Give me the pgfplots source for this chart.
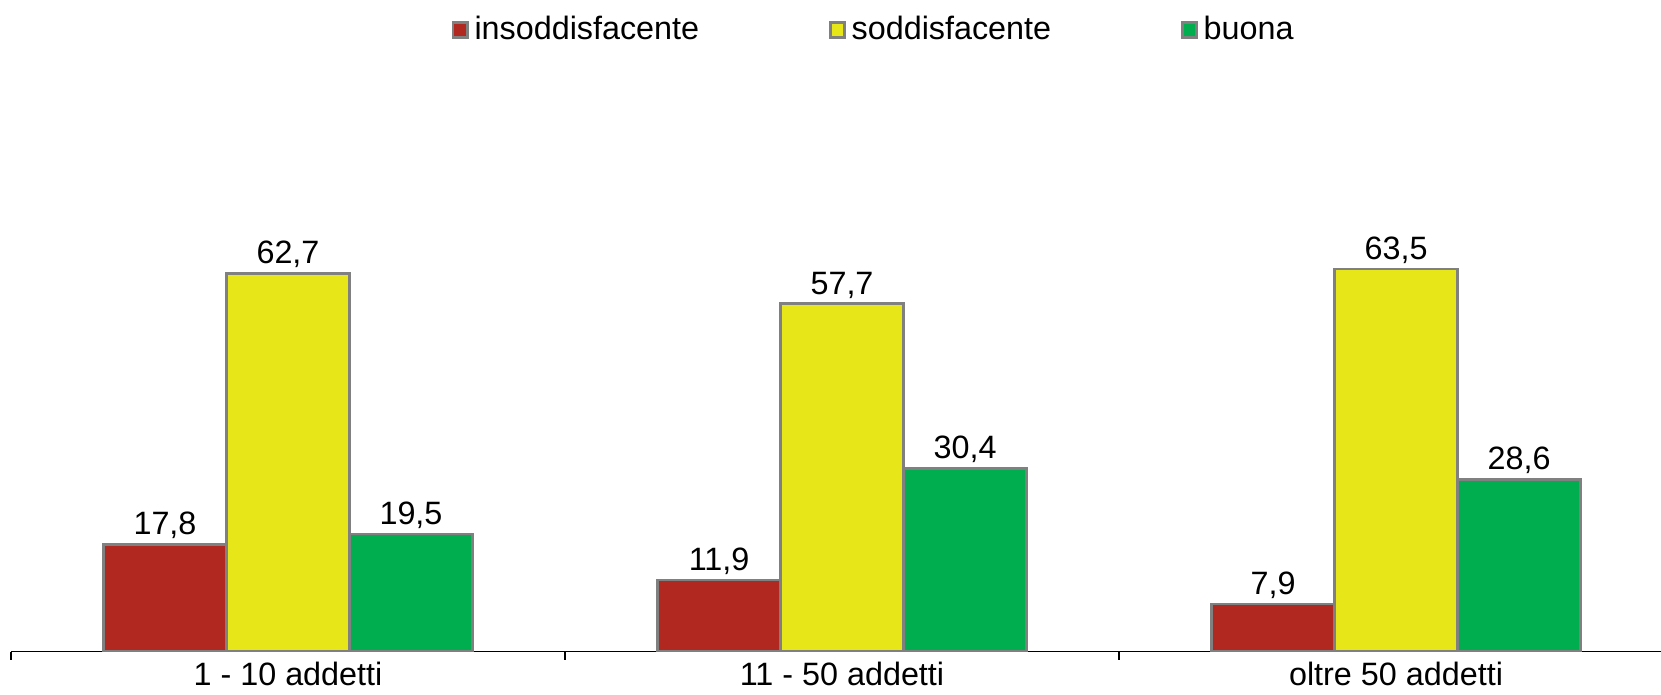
\documentclass[border=0pt]{standalone}
\usepackage{fontspec}
\setmainfont{Liberation Sans}
\usepackage{pgfplots}
\pgfplotsset{compat=1.18}
\definecolor{cRed}{HTML}{B0281F}
\definecolor{cYellow}{HTML}{E6E619}
\definecolor{cGreen}{HTML}{00AE4F}
\definecolor{cGray}{HTML}{808080}

\begin{document}
\begin{tikzpicture}
\begin{axis}[
  at={(0,0)}, anchor=south west,
  scale only axis,
  width=20.625cm, height=7.5375cm,
  xmin=0, xmax=2.9783, ymin=0, ymax=100,
  axis x line*=bottom, axis y line=none,
  x axis line style={black, line width=0.5pt},
  ybar=0pt, bar width=1.5375cm,
  xtick={0.5,1.5,2.5},
  xticklabels={1 - 10 addetti, 11 - 50 addetti, oltre 50 addetti},
  major tick length=0pt,
  extra x ticks={0,1,2},
  extra x tick labels={},
  extra x tick style={major tick length=0.1cm, tick align=outside,
    tick style={draw=black, line width=0.5pt}},
  xticklabel style={font=\fontsize{11.5}{13}\selectfont, yshift=-1.5pt, inner sep=2pt},
  nodes near coords,
  nodes near coords style={font=\fontsize{11.5}{13}\selectfont, black, inner sep=2pt, yshift=-0.5pt},
  legend image code/.code={\draw[#1, draw=cGray, line width=1pt] (0cm,-0.09cm) rectangle (0.18cm,0.09cm);},
  legend style={at={(0.5239,1.031)}, anchor=center, draw=none, fill=none,
    legend columns=3, font=\fontsize{11.5}{13}\selectfont,
    /tikz/every even column/.append style={column sep=1.55cm}},
  /pgf/number format/.cd, use comma, fixed, fixed zerofill, precision=1, assume math mode=true,
]
\addplot[fill=cRed, draw=cGray, line width=0.9pt] coordinates {(0.5,17.8) (1.5,11.9) (2.5,7.9)};
\addplot[fill=cYellow, draw=cGray, line width=0.9pt] coordinates {(0.5,62.7) (1.5,57.7) (2.5,63.5)};
\addplot[fill=cGreen, draw=cGray, line width=0.9pt] coordinates {(0.5,19.5) (1.5,30.4) (2.5,28.6)};
\legend{insoddisfacente, soddisfacente, buona}
\end{axis}
\pgfresetboundingbox
\path (-0.1375cm,-0.541cm) rectangle (20.625cm,8.146cm);
\end{tikzpicture}
\end{document}
